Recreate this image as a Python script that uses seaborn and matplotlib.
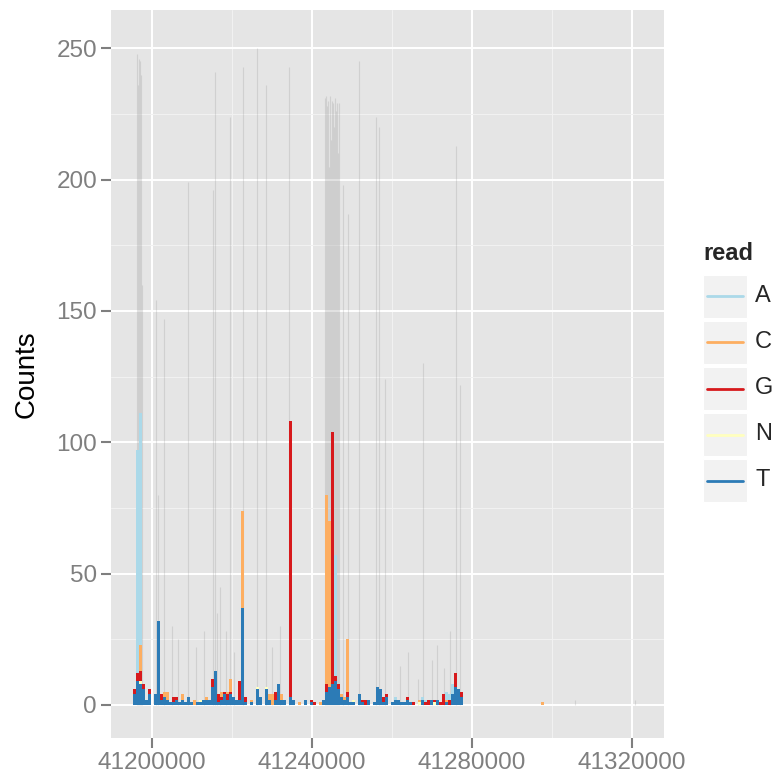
"""Read-base mismatch counts along a genomic region, ggplot-like look."""
import matplotlib
matplotlib.use('Agg')
import matplotlib.pyplot as plt
import matplotlib.ticker as mticker
from matplotlib.lines import Line2D
from matplotlib.patches import Rectangle
import pandas as pd
import seaborn as sns

# ---- data ----------------------------------------------------------------
READS = ['A', 'C', 'G', 'N', 'T']
READ_COLORS = ['#ABD9E9', '#FDAE61', '#D7191C', '#FFFFBF', '#2C7BB6']

bar_pos = [
    41195500, 41196250, 41197000, 41197750, 41198500, 41199250, 41200750,
    41201500, 41202250, 41203000, 41203750, 41204500, 41205250, 41206000,
    41206750, 41207500, 41208250, 41209000, 41209750, 41210500, 41211250,
    41212000, 41212750, 41213500, 41214250, 41215000, 41215750, 41216500,
    41217250, 41218000, 41218750, 41219500, 41220250, 41221000, 41221750,
    41222500, 41223250, 41224750, 41226250, 41227000, 41228500, 41229250,
    41230000, 41230750, 41231500, 41232250, 41233000, 41234500, 41235250,
    41236750, 41238250, 41239750, 41240500, 41242000, 41242750, 41243500,
    41244250, 41245000, 41245750, 41246500, 41247250, 41248000, 41248750,
    41249500, 41250250, 41251750, 41252500, 41253250, 41254000, 41255500,
    41256250, 41257000, 41257750, 41258500, 41260000, 41260750, 41261500,
    41262250, 41263000, 41263750, 41264500, 41265250, 41266750, 41267500,
    41268250, 41269000, 41269750, 41270500, 41271250, 41272000, 41272750,
    41273500, 41274250, 41275000, 41275750, 41276500, 41277250, 41297500,
]
count_A = [
    0, 85, 88, 0, 0, 0, 0, 0, 0, 0, 0, 0, 0, 0, 0, 0, 0, 0, 0, 0, 0,
    0, 0, 0, 0, 0, 0, 0, 0, 0, 0, 0, 0, 0, 0, 0, 0, 0, 0, 0, 0, 0,
    0, 0, 0, 0, 0, 0, 0, 0, 0, 0, 0, 0, 0, 0, 0, 0, 46, 0, 0, 0, 0,
    0, 0, 0, 0, 0, 0, 0, 0, 0, 0, 0, 0, 1, 0, 0, 0, 0, 0, 0, 0, 1,
    1, 0, 0, 0, 0, 0, 0, 3, 2, 4, 0, 0, 0, 0,
]
count_C = [
    0, 0, 10, 0, 0, 0, 0, 0, 0, 2, 3, 0, 0, 0, 0, 2, 0, 0, 0, 2, 0,
    0, 0, 1, 0, 0, 0, 0, 2, 0, 1, 5, 0, 0, 0, 37, 0, 1, 0, 0, 0, 2,
    4, 0, 0, 2, 0, 0, 0, 1, 0, 0, 0, 1, 0, 72, 63, 0, 0, 0, 1, 1, 20,
    0, 0, 0, 0, 0, 0, 0, 0, 0, 0, 0, 0, 0, 0, 0, 0, 0, 0, 0, 1, 0,
    0, 0, 0, 0, 0, 0, 0, 1, 0, 0, 0, 0, 0, 1,
]
count_G = [
    2, 3, 4, 2, 0, 2, 0, 0, 2, 0, 0, 0, 2, 1, 0, 0, 0, 0, 0, 0, 0,
    0, 0, 0, 0, 3, 0, 3, 1, 1, 2, 1, 0, 0, 7, 0, 2, 0, 0, 0, 0, 0,
    0, 3, 0, 0, 0, 105, 0, 0, 0, 1, 1, 0, 0, 3, 0, 96, 2, 2, 0, 0, 2,
    0, 0, 0, 1, 2, 0, 0, 0, 0, 2, 1, 0, 0, 0, 0, 0, 1, 0, 1, 0, 0,
    1, 2, 0, 1, 0, 1, 4, 0, 2, 0, 5, 0, 2, 0,
]
count_N = [
    0, 0, 1, 0, 0, 0, 0, 0, 0, 0, 0, 0, 0, 0, 0, 0, 0, 0, 0, 0, 0,
    1, 0, 0, 0, 0, 0, 0, 0, 0, 0, 0, 0, 0, 0, 0, 0, 0, 1, 0, 1, 0,
    0, 0, 0, 0, 0, 0, 0, 0, 0, 0, 0, 0, 0, 0, 0, 0, 0, 0, 0, 0, 0,
    0, 1, 0, 0, 0, 0, 0, 0, 0, 0, 0, 0, 0, 0, 0, 0, 0, 0, 0, 1, 0,
    0, 0, 0, 1, 0, 0, 0, 0, 0, 0, 0, 0, 0, 0,
]
count_T = [
    4, 9, 8, 6, 2, 4, 4, 32, 2, 3, 2, 1, 1, 2, 1, 2, 1, 3, 1, 0, 1,
    1, 2, 2, 2, 7, 13, 1, 2, 4, 2, 4, 3, 2, 2, 37, 1, 1, 6, 3, 6, 2,
    0, 2, 8, 2, 2, 3, 2, 0, 2, 1, 0, 0, 2, 5, 7, 8, 9, 6, 3, 2, 3,
    1, 1, 4, 1, 0, 2, 1, 7, 6, 1, 3, 1, 2, 2, 1, 1, 2, 1, 0, 0, 2,
    0, 0, 2, 0, 2, 0, 0, 1, 0, 4, 7, 6, 3, 0,
]

# total coverage drawn as faint grey lines
cov_pos = [
    41196250, 41196500, 41196750, 41197000, 41197250, 41197500, 41201000,
    41201500, 41203000, 41205000, 41206500, 41209000, 41211000, 41213000,
    41215250, 41215750, 41216250, 41217000, 41218500, 41219500, 41220500,
    41222750, 41226250, 41228500, 41230000, 41232000, 41234250, 41243250,
    41243500, 41243750, 41244000, 41244250, 41244500, 41244750, 41245000,
    41245250, 41245500, 41245750, 41246000, 41246250, 41246500, 41246750,
    41247750, 41249000, 41251750, 41256000, 41256750, 41258250, 41262000,
    41264000, 41266500, 41267750, 41270000, 41271250, 41273000, 41274500,
    41276000, 41277000, 41305750, 41320750,
]
cov_depth = [
    248, 236, 246, 245, 240, 160, 154, 80, 147, 30, 25, 199, 22, 28,
    196, 241, 35, 45, 28, 224, 20, 243, 250, 236, 22, 30, 243, 231,
    232, 228, 230, 205, 232, 215, 230, 229, 220, 231, 226, 229, 210, 229,
    198, 187, 245, 224, 220, 124, 15, 20, 10, 130, 17, 23, 14, 28,
    213, 122, 2, 2,
]

X_TICKS = [41200000, 41240000, 41280000, 41320000]
X_MINOR = [41220000, 41260000, 41300000]
Y_TICKS = [0, 50, 100, 150, 200, 250]
Y_MINOR = [25, 75, 125, 175, 225]

# ---- long table for seaborn ------------------------------------------------
per_read = dict(zip(READS, [count_A, count_C, count_G, count_N, count_T]))
frames = [pd.DataFrame({'pos': bar_pos, 'read': r, 'count': v})
          for r, v in per_read.items()]
df = pd.concat(frames, ignore_index=True)

sns.set_theme(style='darkgrid', rc={
    'axes.facecolor': '#E5E5E5',
    'grid.color': 'white',
    'axes.edgecolor': 'none',
})
plt.rcParams['font.family'] = ['Liberation Sans', 'DejaVu Sans']

W, H = 776, 782
fig = plt.figure(figsize=(W / 100, H / 100), dpi=100)
ax = fig.add_axes([111 / W, 1 - 738 / H, (664 - 111) / W, (738 - 10) / H])

ax.vlines(cov_pos, 0, cov_depth, color='#808080', alpha=0.2,
          linewidth=0.8, zorder=2)

sns.histplot(data=df, x='pos', weights='count', hue='read',
             hue_order=READS, palette=READ_COLORS, multiple='stack',
             binwidth=750, binrange=(41190625, 41298625),
             element='bars', linewidth=0, alpha=1, legend=False,
             ax=ax, zorder=3)

ax.set_xlim(41189750, 41328000)
ax.set_ylim(-12.6, 264.6)
ax.set_xticks(X_TICKS)
ax.set_xticks(X_MINOR, minor=True)
ax.set_yticks(Y_TICKS)
ax.set_yticks(Y_MINOR, minor=True)
ax.xaxis.set_major_formatter(mticker.FuncFormatter(lambda v, p: f'{int(v)}'))
ax.grid(which='major', color='white', linewidth=1.4)
ax.grid(which='minor', color='#F2F2F2', linewidth=0.7)
ax.set_axisbelow(True)
ax.tick_params(which='major', length=7, width=1.5, color='#7F7F7F',
               labelsize=17.5, labelcolor='#7F7F7F', pad=3,
               bottom=True, left=True)
ax.tick_params(which='minor', length=0)
ax.set_xlabel('')
ax.set_ylabel('Counts', fontsize=20, color='black', labelpad=12)
for s in ax.spines.values():
    s.set_visible(False)

# ---- legend drawn like ggplot's key boxes --------------------------------
def fx(px):
    return px / W


def fy(py):
    return 1 - py / H


fig.text(fx(703), fy(253), 'read', fontsize=17, fontweight='bold',
         ha='left', va='center')
for i, (r, c) in enumerate(zip(READS, READ_COLORS)):
    top = 275 + i * 46
    fig.patches.append(Rectangle((fx(703), fy(top + 43)), fx(44), 43 / H,
                                 transform=fig.transFigure,
                                 facecolor='#F2F2F2', edgecolor='white',
                                 linewidth=0.8))
    fig.lines.append(Line2D([fx(707), fx(743)], [fy(top + 21.5)] * 2,
                            transform=fig.transFigure, color=c,
                            linewidth=2))
    fig.text(fx(755), fy(top + 21.5), r, fontsize=17, ha='left',
             va='center')

fig.savefig('out.png', dpi=100)
